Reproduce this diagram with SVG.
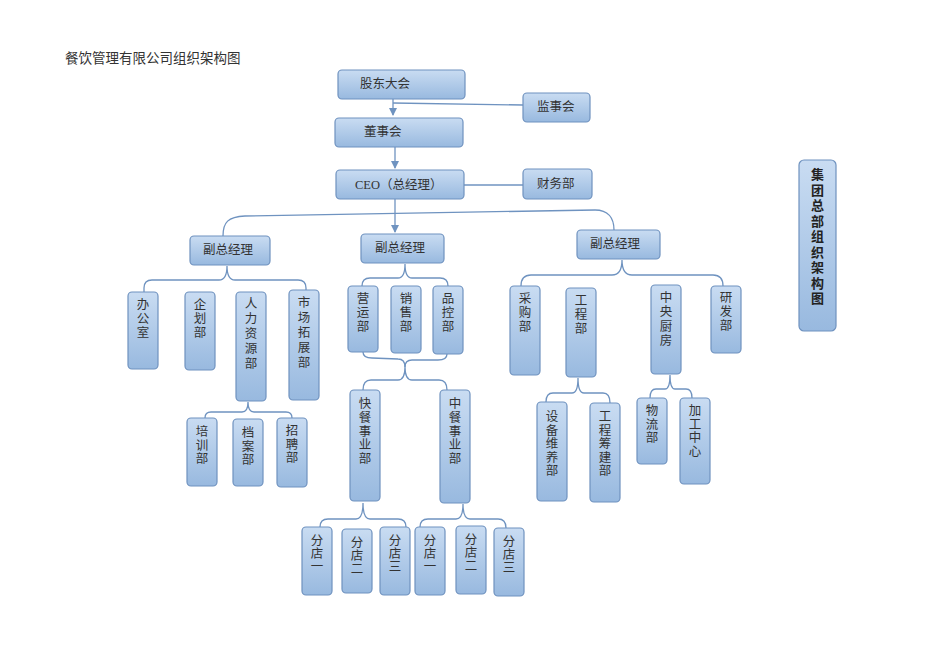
<svg xmlns="http://www.w3.org/2000/svg" width="950" height="672" viewBox="0 0 950 672">
<defs>
<linearGradient id="g" x1="0" y1="0" x2="0" y2="1">
<stop offset="0" stop-color="#c9dcf2"/>
<stop offset="1" stop-color="#98b9df"/>
</linearGradient>
<marker id="a" markerWidth="8" markerHeight="8" refX="7" refY="4" orient="auto" markerUnits="userSpaceOnUse">
<path d="M0,0 L8,4 L0,8 Z" fill="#6f93c0"/>
</marker>
<style>
.b{fill:url(#g);stroke:#6f92bf;stroke-width:1.2}
.t{font-family:"Liberation Serif","Noto Sans CJK SC",serif;font-size:12.5px;fill:#333}
.v{font-family:"Liberation Serif","Noto Sans CJK SC",serif;font-size:12.5px;fill:#333;text-anchor:middle}
.c{fill:none;stroke:#6f93c0;stroke-width:1.3}
</style>
</defs>
<rect width="950" height="672" fill="#fff"/>
<text x="65" y="63" class="t" style="font-size:13.5px">餐饮管理有限公司组织架构图</text>

<g id="connectors">
<path class="c" d="M393,99 V115" marker-end="url(#a)"/>
<path class="c" d="M393,103 L523,105"/>
<path class="c" d="M395,147 V168" marker-end="url(#a)"/>
<path class="c" d="M464,185 H523"/>
<path class="c" d="M395,199 V232" marker-end="url(#a)"/>
<path class="c" d="M223,236 C223,222 228,217 245,216 L595,210 C608,210 614,218 614,230"/>
<path class="c" d="M144,292 V288 Q144,280 152,280 H219 Q227,280 227,266 Q227,280 235,280 H298 Q306,280 306,288 V290"/>
<path class="c" d="M205,418 Q205,412 211,412 H242 Q248,412 248,402 Q248,412 254,412 H286 Q292,412 292,418"/>
<path class="c" d="M362,286 Q362,278 370,278 H398 Q405,278 405,264 Q405,278 412,278 H440 Q448,278 448,286"/>
<path class="c" d="M363,352 Q363,358 372,358 L398,359 Q405,359 405,367"/>
<path class="c" d="M447,354 Q447,360 438,360 L412,360 Q405,360 405,367"/>
<path class="c" d="M363,390 Q363,380 371,380 H398 Q405,380 405,367 Q405,380 412,380 H439 Q447,380 447,390"/>
<path class="c" d="M320,527 Q320,519 328,519 H356 Q363,519 363,503 Q363,519 370,519 H398 Q406,519 406,527"/>
<path class="c" d="M420,527 Q420,519 428,519 H456 Q463,519 463,504 Q463,519 470,519 H498 Q506,519 506,528"/>
<path class="c" d="M521,286 Q521,275 531,275 H612 Q622,275 622,260 Q622,275 632,275 H713 Q723,275 723,286"/>
<path class="c" d="M546,402 Q546,393 553,393 H572 Q578,393 578,378 Q578,393 584,393 H603 Q610,393 610,403"/>
<path class="c" d="M650,398 Q650,389 656,389 H665 Q670,389 670,375 Q670,389 675,389 H686 Q692,389 692,398"/>
</g>

<g id="n-gd"><rect class="b" x="338" y="70" width="127" height="29" rx="4"/><text class="t" x="360" y="88">股东大会</text></g>
<g id="n-js"><rect class="b" x="523" y="93" width="67" height="29" rx="4"/><text class="t" x="537" y="111">监事会</text></g>
<g id="n-ds"><rect class="b" x="335" y="118" width="128" height="29" rx="4"/><text class="t" x="364" y="136">董事会</text></g>
<g id="n-ceo"><rect class="b" x="336" y="170" width="128" height="29" rx="4"/><text class="t" x="355" y="189">CEO（总经理）</text></g>
<g id="n-cw"><rect class="b" x="523" y="169" width="69" height="30" rx="4"/><text class="t" x="537" y="188">财务部</text></g>
<g id="n-hq"><rect class="b" x="799" y="160" width="37" height="171" rx="5"/><text class="v" x="817.5" y="179" style="font-weight:bold;font-size:13px;fill:#222"><tspan x="817.5">集</tspan><tspan x="817.5" dy="15.5">团</tspan><tspan x="817.5" dy="15.5">总</tspan><tspan x="817.5" dy="15.5">部</tspan><tspan x="817.5" dy="15.5">组</tspan><tspan x="817.5" dy="15.5">织</tspan><tspan x="817.5" dy="15.5">架</tspan><tspan x="817.5" dy="15.5">构</tspan><tspan x="817.5" dy="15.5">图</tspan></text></g>

<g id="n-vp1"><rect class="b" x="190" y="236" width="80" height="29" rx="4"/><text class="t" x="203" y="254">副总经理</text></g>
<g id="n-vp2"><rect class="b" x="361" y="234" width="83" height="29" rx="4"/><text class="t" x="375" y="252">副总经理</text></g>
<g id="n-vp3"><rect class="b" x="577" y="230" width="83" height="29" rx="4"/><text class="t" x="590" y="248">副总经理</text></g>

<g id="n-bgs"><rect class="b" x="128" y="292" width="30" height="77" rx="4"/><text class="v" x="143" y="309"><tspan x="143">办</tspan><tspan x="143" dy="14">公</tspan><tspan x="143" dy="14">室</tspan></text></g>
<g id="n-qh"><rect class="b" x="185" y="292" width="30" height="78" rx="4"/><text class="v" x="200" y="309"><tspan x="200">企</tspan><tspan x="200" dy="14">划</tspan><tspan x="200" dy="14">部</tspan></text></g>
<g id="n-hr"><rect class="b" x="236" y="292" width="30" height="109" rx="4"/><text class="v" x="251" y="308"><tspan x="251">人</tspan><tspan x="251" dy="15">力</tspan><tspan x="251" dy="15">资</tspan><tspan x="251" dy="15">源</tspan><tspan x="251" dy="15">部</tspan></text></g>
<g id="n-sc"><rect class="b" x="289" y="290" width="30" height="110" rx="4"/><text class="v" x="304" y="307"><tspan x="304">市</tspan><tspan x="304" dy="15">场</tspan><tspan x="304" dy="15">拓</tspan><tspan x="304" dy="15">展</tspan><tspan x="304" dy="15">部</tspan></text></g>

<g id="n-px"><rect class="b" x="187" y="418" width="30" height="68" rx="4"/><text class="v" x="202" y="436"><tspan x="202">培</tspan><tspan x="202" dy="13.5">训</tspan><tspan x="202" dy="13.5">部</tspan></text></g>
<g id="n-da"><rect class="b" x="233" y="419" width="30" height="67" rx="4"/><text class="v" x="248" y="437"><tspan x="248">档</tspan><tspan x="248" dy="13.5">案</tspan><tspan x="248" dy="13.5">部</tspan></text></g>
<g id="n-zp"><rect class="b" x="277" y="418" width="30" height="69" rx="4"/><text class="v" x="292" y="435"><tspan x="292">招</tspan><tspan x="292" dy="13.5">聘</tspan><tspan x="292" dy="13.5">部</tspan></text></g>

<g id="n-yy"><rect class="b" x="348" y="286" width="30" height="66" rx="4"/><text class="v" x="363" y="303"><tspan x="363">营</tspan><tspan x="363" dy="14">运</tspan><tspan x="363" dy="14">部</tspan></text></g>
<g id="n-xs"><rect class="b" x="391" y="286" width="30" height="67" rx="4"/><text class="v" x="406" y="303"><tspan x="406">销</tspan><tspan x="406" dy="14">售</tspan><tspan x="406" dy="14">部</tspan></text></g>
<g id="n-pk"><rect class="b" x="433" y="286" width="30" height="68" rx="4"/><text class="v" x="448" y="303"><tspan x="448">品</tspan><tspan x="448" dy="14">控</tspan><tspan x="448" dy="14">部</tspan></text></g>

<g id="n-kc"><rect class="b" x="350" y="390" width="30" height="111" rx="4"/><text class="v" x="365" y="408"><tspan x="365">快</tspan><tspan x="365" dy="13.8">餐</tspan><tspan x="365" dy="13.8">事</tspan><tspan x="365" dy="13.8">业</tspan><tspan x="365" dy="13.8">部</tspan></text></g>
<g id="n-zc"><rect class="b" x="440" y="390" width="30" height="113" rx="4"/><text class="v" x="455" y="408"><tspan x="455">中</tspan><tspan x="455" dy="13.8">餐</tspan><tspan x="455" dy="13.8">事</tspan><tspan x="455" dy="13.8">业</tspan><tspan x="455" dy="13.8">部</tspan></text></g>

<g id="n-f1"><rect class="b" x="302" y="527" width="30" height="68" rx="4"/><text class="v" x="317" y="545"><tspan x="317">分</tspan><tspan x="317" dy="13">店</tspan><tspan x="317" dy="13">一</tspan></text></g>
<g id="n-f2"><rect class="b" x="342" y="529" width="30" height="64" rx="4"/><text class="v" x="357" y="547"><tspan x="357">分</tspan><tspan x="357" dy="13">店</tspan><tspan x="357" dy="13">二</tspan></text></g>
<g id="n-f3"><rect class="b" x="380" y="527" width="30" height="68" rx="4"/><text class="v" x="395" y="545"><tspan x="395">分</tspan><tspan x="395" dy="13">店</tspan><tspan x="395" dy="13">三</tspan></text></g>
<g id="n-f4"><rect class="b" x="415" y="527" width="30" height="68" rx="4"/><text class="v" x="430" y="545"><tspan x="430">分</tspan><tspan x="430" dy="13">店</tspan><tspan x="430" dy="13">一</tspan></text></g>
<g id="n-f5"><rect class="b" x="456" y="526" width="30" height="68" rx="4"/><text class="v" x="471" y="544"><tspan x="471">分</tspan><tspan x="471" dy="13">店</tspan><tspan x="471" dy="13">二</tspan></text></g>
<g id="n-f6"><rect class="b" x="494" y="528" width="30" height="68" rx="4"/><text class="v" x="509" y="546"><tspan x="509">分</tspan><tspan x="509" dy="13">店</tspan><tspan x="509" dy="13">三</tspan></text></g>

<g id="n-cg"><rect class="b" x="510" y="286" width="30" height="89" rx="4"/><text class="v" x="525" y="303"><tspan x="525">采</tspan><tspan x="525" dy="14">购</tspan><tspan x="525" dy="14">部</tspan></text></g>
<g id="n-gc"><rect class="b" x="566" y="288" width="30" height="89" rx="4"/><text class="v" x="581" y="305"><tspan x="581">工</tspan><tspan x="581" dy="14">程</tspan><tspan x="581" dy="14">部</tspan></text></g>
<g id="n-zy"><rect class="b" x="651" y="285" width="30" height="89" rx="4"/><text class="v" x="666" y="302"><tspan x="666">中</tspan><tspan x="666" dy="14.3">央</tspan><tspan x="666" dy="14.3">厨</tspan><tspan x="666" dy="14.3">房</tspan></text></g>
<g id="n-yf"><rect class="b" x="711" y="286" width="30" height="67" rx="4"/><text class="v" x="726" y="302"><tspan x="726">研</tspan><tspan x="726" dy="14">发</tspan><tspan x="726" dy="14">部</tspan></text></g>

<g id="n-sb"><rect class="b" x="537" y="402" width="30" height="99" rx="4"/><text class="v" x="552" y="421"><tspan x="552">设</tspan><tspan x="552" dy="13.5">备</tspan><tspan x="552" dy="13.5">维</tspan><tspan x="552" dy="13.5">养</tspan><tspan x="552" dy="13.5">部</tspan></text></g>
<g id="n-cj"><rect class="b" x="590" y="403" width="30" height="99" rx="4"/><text class="v" x="605" y="421"><tspan x="605">工</tspan><tspan x="605" dy="13.5">程</tspan><tspan x="605" dy="13.5">筹</tspan><tspan x="605" dy="13.5">建</tspan><tspan x="605" dy="13.5">部</tspan></text></g>
<g id="n-wl"><rect class="b" x="637" y="398" width="30" height="66" rx="4"/><text class="v" x="652" y="415"><tspan x="652">物</tspan><tspan x="652" dy="13.5">流</tspan><tspan x="652" dy="13.5">部</tspan></text></g>
<g id="n-jg"><rect class="b" x="680" y="398" width="30" height="86" rx="4"/><text class="v" x="695" y="415"><tspan x="695">加</tspan><tspan x="695" dy="13.5">工</tspan><tspan x="695" dy="13.5">中</tspan><tspan x="695" dy="13.5">心</tspan></text></g>
</svg>
